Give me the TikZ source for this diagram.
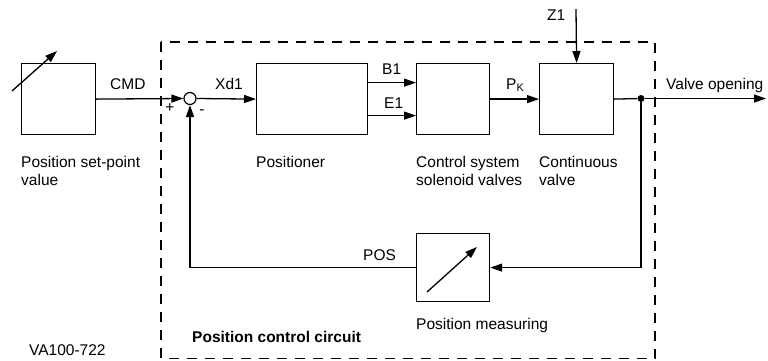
\documentclass[tikz,border=0pt]{standalone}
\usepackage{fontspec}
\setmainfont{Liberation Sans}
\usetikzlibrary{arrows.meta}
\begin{document}
\begin{tikzpicture}[x=1pt,y=-1pt,
  every node/.style={font=\fontsize{15.5}{18}\selectfont},
  blk/.style={draw,line width=1.2pt,inner sep=0pt,anchor=north west},
  arr/.style={line width=1.3pt,-{Triangle[length=12pt,width=8pt]}},
  ln/.style={line width=1.3pt},
  lbl/.style={anchor=north west,inner sep=0pt,align=left},
  sig/.style={anchor=base west,inner sep=0pt},
  frame/.style={line width=1.4pt,dash pattern=on 10pt off 8pt}
]
\useasboundingbox (0,0) rectangle (768,360);
% frame
\draw[frame] (161,42) rectangle (655,358.5);
% blocks
\node[blk,minimum width=74pt,minimum height=71pt] (sp) at (21,63) {};
\node[blk,minimum width=111pt,minimum height=71pt] (pos) at (256,63) {};
\node[blk,minimum width=73pt,minimum height=71pt] (ctl) at (416,63) {};
\node[blk,minimum width=74pt,minimum height=71pt] (vlv) at (539,63) {};
\node[blk,minimum width=73pt,minimum height=68pt] (meas) at (416,233) {};
\node[draw,circle,line width=1.2pt,minimum size=12pt,inner sep=0pt] (sum) at (190,98.5) {};
\node[circle,fill,minimum size=7pt,inner sep=0pt] (dot) at (641,98.5) {};
\coordinate (out) at (766,98.5);
\coordinate (z) at (576,9);
\coordinate (a1) at (12,91);
\coordinate (a2) at (57,51);
\coordinate (m1) at (427,292);
\coordinate (m2) at (477,247);
% adjustable arrows
\draw[arr] (a1) -- (a2);
\draw[arr] (m1) -- (m2);
% connectors
\draw[arr] (sp.east) -- (sum.west);
\draw[arr] (sum.east) -- (pos.west);
\draw[arr] ([yshift=16.5pt]pos.east) -- ([yshift=16.5pt]ctl.west);
\draw[arr] ([yshift=-16.5pt]pos.east) -- ([yshift=-16.5pt]ctl.west);
\draw[arr] (ctl.east) -- (vlv.west);
\draw[ln] (vlv.east) -- (dot);
\draw[arr] (dot) -- (out);
\draw[arr] (z) -- (vlv.north);
\draw[arr] (dot) |- (meas.east);
\draw[arr] (meas.west) -| (sum.south);
% signal labels
\node[sig] (cmd) at (110,89) {CMD};
\node[sig] (xd) at (215,89) {Xd1};
\node[sig] (b1) at (382,74) {B1};
\node[sig] (e1) at (384,108) {E1};
\node[sig] (pk) at (506,89) {P\textsubscript{K}};
\node[sig] (z1) at (547,20) {Z1};
\node[sig] (vo) at (666,89) {Valve opening};
\node[sig] (ps) at (363,260) {POS};
\node[inner sep=0pt] (plus) at (170,108) {+};
\node[inner sep=0pt] (minus) at (202,112) {-};
% block labels
\node[lbl] (t1) at (21,156) {Position set-point\\value};
\node[lbl] (t2) at (256,156) {Positioner};
\node[lbl] (t3) at (416,156) {Control system\\solenoid valves};
\node[lbl] (t4) at (539,156) {Continuous\\valve};
\node[lbl] (t5) at (416,318) {Position measuring};
\node[lbl,font=\fontsize{15.5}{18}\selectfont\bfseries] (t6) at (192,331) {Position control circuit};
\node[lbl] (t7) at (29,344) {VA100-722};
\end{tikzpicture}
\end{document}
